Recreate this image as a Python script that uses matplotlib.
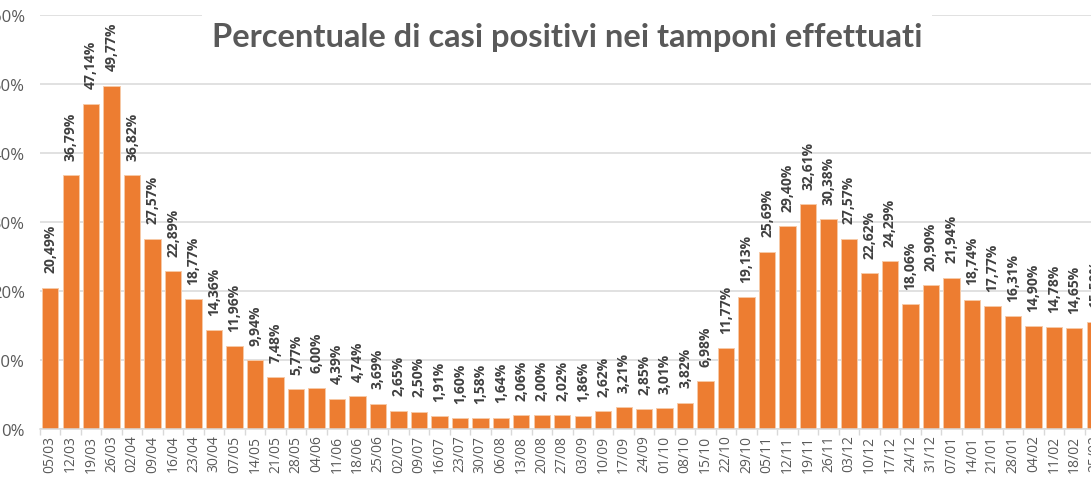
import numpy as np
import matplotlib
matplotlib.use("Agg")
import matplotlib.pyplot as plt

# weekly dates and percent of positive swabs
dates = ["05/03", "12/03", "19/03", "26/03", "02/04", "09/04", "16/04", "23/04",
         "30/04", "07/05", "14/05", "21/05", "28/05", "04/06", "11/06", "18/06",
         "25/06", "02/07", "09/07", "16/07", "23/07", "30/07", "06/08", "13/08",
         "20/08", "27/08", "03/09", "10/09", "17/09", "24/09", "01/10", "08/10",
         "15/10", "22/10", "29/10", "05/11", "12/11", "19/11", "26/11", "03/12",
         "10/12", "17/12", "24/12", "31/12", "07/01", "14/01", "21/01", "28/01",
         "04/02", "11/02", "18/02", "25/02"]
positivity = [20.49, 36.79, 47.14, 49.77, 36.82, 27.57, 22.89, 18.77,
              14.36, 11.96, 9.94, 7.48, 5.77, 6.00, 4.39, 4.74,
              3.69, 2.65, 2.50, 1.91, 1.60, 1.58, 1.64, 2.06,
              2.00, 2.02, 1.86, 2.62, 3.21, 2.85, 3.01, 3.82,
              6.98, 11.77, 19.13, 25.69, 29.40, 32.61, 30.38, 27.57,
              22.62, 24.29, 18.06, 20.90, 21.94, 18.74, 17.77, 16.31,
              14.90, 14.78, 14.65, 15.50]
yticks = [0, 10, 20, 30, 40, 50, 60]

title = "Percentuale di casi positivi nei tamponi effettuati"
grey = "#595959"

fig = plt.figure(figsize=(10.91, 4.85), dpi=100)
# the original chart is cropped on the right, so the axes run past the edge
ax = fig.add_axes([40 / 1091, 55 / 485, 1065 / 1091, 414 / 485])

x = np.arange(len(dates))
ax.bar(x, positivity, width=0.8, color="#ED7D31", edgecolor="#f7c9a6",
       linewidth=0.7, zorder=2)

for xi, v in zip(x, positivity):
    ax.annotate(f"{v:.2f}%".replace(".", ","), (xi, v), xytext=(0, 11),
                textcoords="offset points", rotation=90, ha="center",
                va="bottom", fontsize=10, fontweight="bold",
                family="Open Sans", color="#404040", annotation_clip=False)

ax.set_xlim(-0.5, len(dates) - 0.5)
ax.set_ylim(0, 60)
ax.set_yticks(yticks)
ax.set_yticklabels([f"{t}%" for t in yticks], fontsize=12,
                   family="Open Sans", color=grey)
ax.tick_params(axis="y", length=0, pad=11)
ax.yaxis.grid(True, color="#d9d9d9", linewidth=1.1, zorder=0)
ax.set_axisbelow(True)

ax.set_xticks(x)
ax.set_xticklabels(dates, rotation=90, fontsize=10, family="Open Sans",
                   color=grey)
ax.set_xticks(np.arange(-0.5, len(dates), 1), minor=True)
ax.tick_params(axis="x", which="major", length=0, pad=4)
ax.tick_params(axis="x", which="minor", length=4, color="#d9d9d9", width=1)

for s in ["top", "right", "left"]:
    ax.spines[s].set_visible(False)
ax.spines["bottom"].set_color("#d9d9d9")
ax.spines["bottom"].set_linewidth(1.1)

fig.text(567 / 1091, 1 - 38 / 485, title, ha="center", va="center",
         fontsize=23.5, fontweight="bold", family="Lato", color=grey,
         bbox=dict(boxstyle="square,pad=0.3", facecolor="white",
                   edgecolor="none"))

fig.savefig("out.png", dpi=100)
